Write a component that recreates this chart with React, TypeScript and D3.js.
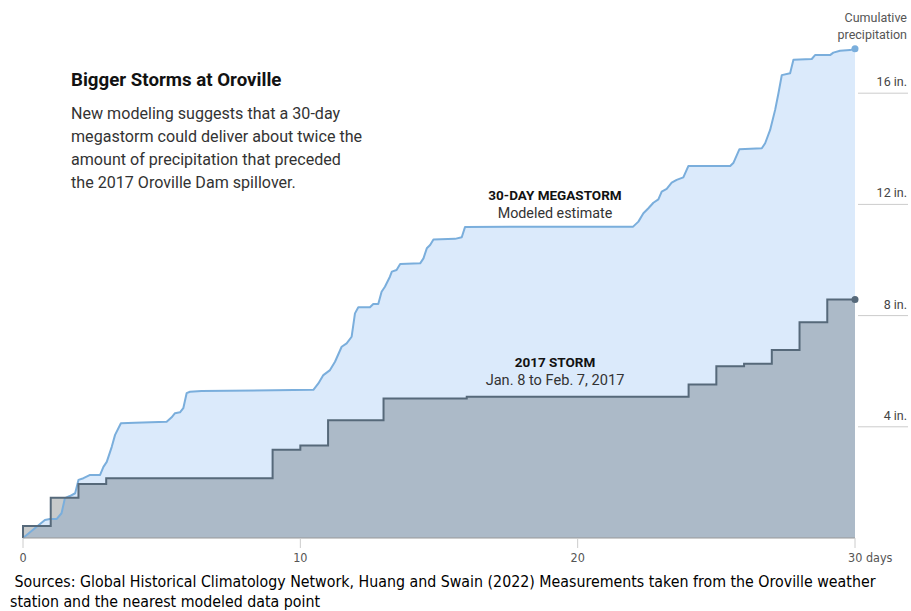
import React from "react";
import * as d3 from "d3";

const megaDays = [0, 0.79, 0.97, 1.21, 1.39, 1.51, 1.69, 1.88, 2.0, 2.18, 2.42, 2.78, 2.9, 3.02, 3.2, 3.32, 3.53, 4.04, 5.18, 5.36, 5.48, 5.66, 5.78, 5.9, 6.02, 6.44, 10.47, 10.65, 10.83, 11.07, 11.25, 11.49, 11.67, 11.85, 11.97, 12.09, 12.51, 12.63, 12.81, 12.93, 13.05, 13.23, 13.3, 13.47, 13.6, 14.32, 14.44, 14.56, 14.68, 14.8, 15.58, 15.82, 15.94, 22.0, 22.19, 22.37, 22.55, 22.73, 22.91, 23.03, 23.21, 23.39, 23.57, 23.81, 23.99, 25.5, 25.62, 25.83, 26.64, 26.76, 26.94, 27.12, 27.24, 27.36, 27.66, 27.78, 28.44, 28.56, 29.1, 29.22, 29.46, 29.82, 30.0];
const megaInches = [0, 0.65, 0.68, 0.68, 0.89, 1.43, 1.51, 1.61, 2.09, 2.15, 2.27, 2.27, 2.56, 2.74, 3.28, 3.71, 4.13, 4.15, 4.18, 4.34, 4.49, 4.52, 4.67, 5.21, 5.26, 5.29, 5.33, 5.56, 5.86, 6.04, 6.34, 6.88, 7.0, 7.24, 8.08, 8.3, 8.3, 8.42, 8.42, 8.86, 9.04, 9.4, 9.58, 9.64, 9.86, 9.88, 10.06, 10.42, 10.54, 10.74, 10.76, 10.82, 11.19, 11.2, 11.38, 11.68, 11.86, 12.06, 12.18, 12.46, 12.56, 12.78, 12.88, 12.97, 13.38, 13.38, 13.5, 13.98, 14.02, 14.2, 14.68, 15.4, 16.0, 16.65, 16.72, 17.2, 17.23, 17.37, 17.37, 17.46, 17.53, 17.55, 17.6];

const stormDays = [0, 0, 1, 2, 3, 9, 10, 11, 13, 16, 24, 25, 26, 27, 28, 29, 30];
const stormInches = [0, 0.43, 1.45, 1.94, 2.15, 3.17, 3.33, 4.24, 5.02, 5.08, 5.52, 6.18, 6.27, 6.76, 7.76, 8.58, 8.58];

const xTicks = [0, 10, 20, 30];
const xTickLabels = ["0", "10", "20", "30 days"];
const yTicks = [4, 8, 12, 16];
const yTickLabels = ["4 in.", "8 in.", "12 in.", "16 in."];

const titleText = "Bigger Storms at Oroville";
const bodyLines = [
  "New modeling suggests that a 30-day",
  "megastorm could deliver about twice the",
  "amount of precipitation that preceded",
  "the 2017 Oroville Dam spillover.",
];
const sourceLines = [
  " Sources: Global Historical Climatology Network, Huang and Swain (2022) Measurements taken from the Oroville weather",
  "station and the nearest modeled data point",
];

type P = [number, number];

export default function App() {
  const x = d3.scaleLinear().domain([0, 30]).range([23, 855]);
  const y = d3.scaleLinear().domain([0, 16]).range([538, 93.2]);

  const mega: P[] = megaDays.map((d, i) => [d, megaInches[i]]);
  const storm: P[] = stormDays.map((d, i) => [d, stormInches[i]]);

  const megaArea = d3.area<P>().x((d) => x(d[0])).y0(y(0)).y1((d) => y(d[1]))(mega) || "";
  const megaLine = d3.line<P>().x((d) => x(d[0])).y((d) => y(d[1]))(mega) || "";
  const stormArea = d3.area<P>().curve(d3.curveStepAfter).x((d) => x(d[0])).y0(y(0)).y1((d) => y(d[1]))(storm) || "";
  const stormLine = d3.line<P>().curve(d3.curveStepAfter).x((d) => x(d[0])).y((d) => y(d[1]))(storm) || "";

  const sans = "Roboto, 'Noto Sans', sans-serif";
  const narrow = "'DejaVu Sans Condensed', 'Liberation Sans Narrow', sans-serif";
  const megaEnd = mega[mega.length - 1];
  const stormEnd = storm[storm.length - 1];

  return (
    <svg width={911} height={611} style={{ position: "absolute", left: 0, top: 0, background: "#fff" }}>
      <path d={megaArea} fill="#dbeafb" />
      <path d={stormArea} fill="#1e2a2f" fillOpacity={0.25} />
      <path d={megaLine} fill="none" stroke="#7aaedc" strokeWidth={2} strokeLinejoin="round" />
      <path d={stormLine} fill="none" stroke="#56697a" strokeWidth={2} />
      <circle cx={x(megaEnd[0])} cy={y(megaEnd[1])} r={3.5} fill="#7aaedc" />
      <circle cx={x(stormEnd[0])} cy={y(stormEnd[1])} r={3.5} fill="#56697a" />

      <line x1={x(0)} x2={x(30)} y1={y(0)} y2={y(0)} stroke="#999" strokeWidth={1} />
      {xTicks.map((t, i) => (
        <g key={t}>
          <line x1={x(t)} x2={x(t)} y1={y(0)} y2={y(0) + 10} stroke="#ccc" strokeWidth={1} />
          <text
            x={i === xTicks.length - 1 ? x(t) - 7 : x(t)}
            y={562}
            textAnchor={i === xTicks.length - 1 ? "start" : "middle"}
            fontFamily={narrow}
            fontSize={12.5}
            fill="#555"
          >
            {xTickLabels[i]}
          </text>
        </g>
      ))}

      {yTicks.map((t, i) => (
        <g key={t}>
          <line x1={858} x2={908} y1={y(t)} y2={y(t)} stroke="#ccc" strokeWidth={1} />
          <text x={907} y={y(t) - 7} textAnchor="end" fontFamily={sans} fontSize={12.5} fill="#444">
            {yTickLabels[i]}
          </text>
        </g>
      ))}
      <text x={907} y={22} textAnchor="end" fontFamily={sans} fontSize={12.5} fill="#555">Cumulative</text>
      <text x={907} y={39} textAnchor="end" fontFamily={sans} fontSize={12.5} fill="#555">precipitation</text>

      <text x={71} y={86} fontFamily={sans} fontWeight={700} fontSize={18.7} fill="#121212">{titleText}</text>
      {bodyLines.map((l, i) => (
        <text key={i} x={71} y={119 + i * 23} fontFamily={sans} fontSize={16.1} fill="#333">{l}</text>
      ))}

      <text x={555} y={200} textAnchor="middle" fontFamily={sans} fontWeight={700} fontSize={13.5} fill="#121212">30-DAY MEGASTORM</text>
      <text x={555} y={218} textAnchor="middle" fontFamily={sans} fontSize={14.3} fill="#333">Modeled estimate</text>
      <text x={555} y={367} textAnchor="middle" fontFamily={sans} fontWeight={700} fontSize={13.5} fill="#121212">2017 STORM</text>
      <text x={555} y={385} textAnchor="middle" fontFamily={sans} fontSize={14.6} fill="#333">Jan. 8 to Feb. 7, 2017</text>

      <text x={10} y={587} fontFamily={narrow} fontSize={15.8} fill="#000" style={{ whiteSpace: "pre" }}>{sourceLines[0]}</text>
      <text x={10} y={607} fontFamily={narrow} fontSize={15.8} fill="#000">{sourceLines[1]}</text>
    </svg>
  );
}
